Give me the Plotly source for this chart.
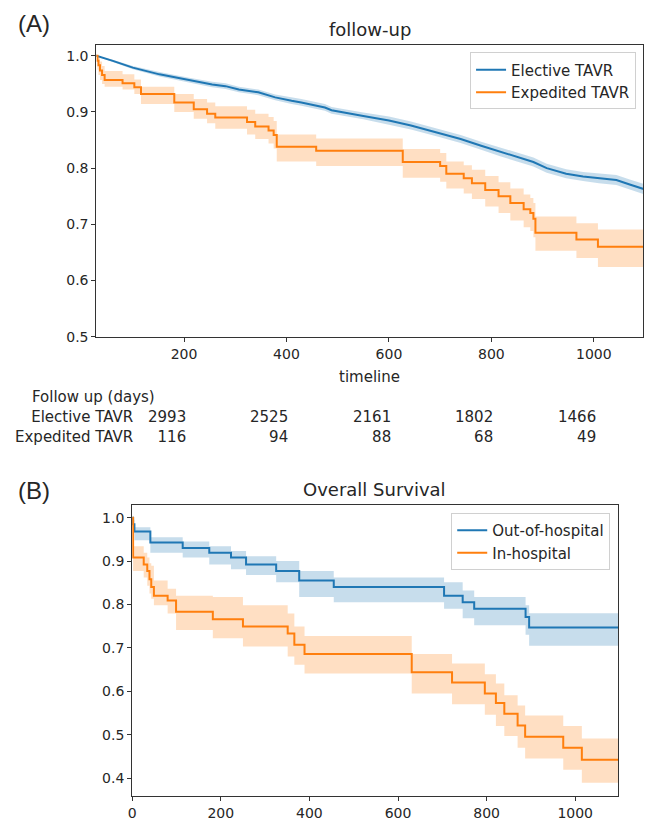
import plotly.graph_objects as go

# ---------------- Panel A : follow-up ----------------
elective_days = [0, 29, 61, 100, 152, 180, 210, 255, 281, 307, 345, 378, 410, 429, 475, 488,
                 550, 600, 643, 700, 740, 780, 817, 850, 882, 908, 946, 979, 1010, 1044, 1070, 1100]
elective_surv = [1.0, 1.0, 0.991, 0.979, 0.967, 0.962, 0.957, 0.949, 0.946, 0.940, 0.935, 0.926,
                 0.920, 0.917, 0.908, 0.903, 0.893, 0.885, 0.876, 0.862, 0.852, 0.840, 0.829, 0.820,
                 0.811, 0.800, 0.790, 0.785, 0.782, 0.779, 0.771, 0.762]
elective_upper = [1.0, 1.0, 0.993, 0.982, 0.971, 0.966, 0.961, 0.954, 0.951, 0.945, 0.940, 0.931,
                  0.926, 0.923, 0.914, 0.909, 0.899, 0.892, 0.883, 0.869, 0.859, 0.847, 0.837, 0.828,
                  0.819, 0.808, 0.798, 0.793, 0.791, 0.788, 0.780, 0.771]
elective_lower = [1.0, 1.0, 0.989, 0.976, 0.963, 0.958, 0.953, 0.944, 0.941, 0.935, 0.930, 0.921,
                  0.914, 0.911, 0.902, 0.897, 0.887, 0.878, 0.869, 0.855, 0.845, 0.833, 0.821, 0.812,
                  0.803, 0.792, 0.782, 0.777, 0.773, 0.770, 0.762, 0.753]

expedited_days = [0, 31, 33, 36, 40, 45, 80, 103, 116, 181, 219, 245, 261, 323, 339, 365, 375, 381,
                  458, 627, 700, 712, 746, 762, 788, 814, 837, 863, 876, 882, 886, 966, 1008, 1100]
expedited_surv = [1.0, 0.991, 0.983, 0.974, 0.966, 0.957, 0.951, 0.944, 0.932, 0.917, 0.905, 0.897,
                  0.890, 0.882, 0.874, 0.867, 0.859, 0.838, 0.831, 0.811, 0.804, 0.790, 0.782, 0.773,
                  0.761, 0.750, 0.738, 0.727, 0.720, 0.710, 0.685, 0.673, 0.660, 0.660]
expedited_upper = [1.0, 1.0, 0.997, 0.990, 0.982, 0.973, 0.967, 0.958, 0.945, 0.932, 0.923, 0.917,
                   0.910, 0.904, 0.897, 0.891, 0.884, 0.860, 0.853, 0.834, 0.827, 0.812, 0.805, 0.797,
                   0.786, 0.775, 0.764, 0.753, 0.747, 0.738, 0.714, 0.702, 0.691, 0.691]
expedited_lower = [1.0, 0.975, 0.966, 0.957, 0.950, 0.945, 0.940, 0.932, 0.914, 0.900, 0.888, 0.880,
                   0.870, 0.860, 0.852, 0.844, 0.835, 0.812, 0.804, 0.783, 0.776, 0.764, 0.755, 0.745,
                   0.732, 0.720, 0.707, 0.695, 0.688, 0.677, 0.653, 0.640, 0.624, 0.624]

risk_ticks = [200, 400, 600, 800, 1000]
risk_elective = ["2993", "2525", "2161", "1802", "1466"]
risk_expedited = ["116", "94", "88", "68", "49"]
risk_rows = ["Elective TAVR", "Expedited TAVR"]

# ---------------- Panel B : Overall Survival ----------------
out_days = [0, 2, 5, 41, 114, 174, 223, 257, 325, 377, 455, 704, 746, 772, 888, 896, 1100]
out_surv = [1.0, 0.985, 0.968, 0.943, 0.930, 0.919, 0.908, 0.892, 0.877, 0.855, 0.840, 0.820,
            0.805, 0.790, 0.771, 0.747, 0.747]
out_upper = [1.0, 0.995, 0.978, 0.955, 0.945, 0.934, 0.923, 0.911, 0.900, 0.877, 0.862, 0.851,
             0.832, 0.817, 0.798, 0.780, 0.780]
out_lower = [1.0, 0.965, 0.948, 0.919, 0.908, 0.892, 0.881, 0.868, 0.851, 0.817, 0.805, 0.790,
             0.768, 0.752, 0.730, 0.705, 0.705]

in_days = [0, 2, 26, 34, 39, 43, 49, 80, 99, 182, 250, 351, 366, 389, 631, 722, 796, 821, 840,
           870, 887, 973, 1015, 1100]
in_surv = [1.0, 0.908, 0.892, 0.877, 0.858, 0.840, 0.820, 0.809, 0.783, 0.766, 0.749, 0.733, 0.707,
           0.686, 0.644, 0.620, 0.595, 0.573, 0.548, 0.521, 0.495, 0.470, 0.442, 0.442]
in_upper = [1.0, 0.934, 0.919, 0.908, 0.895, 0.889, 0.855, 0.836, 0.820, 0.817, 0.798, 0.779, 0.749,
            0.727, 0.686, 0.664, 0.639, 0.618, 0.591, 0.567, 0.544, 0.520, 0.491, 0.491]
in_lower = [1.0, 0.877, 0.862, 0.843, 0.825, 0.813, 0.798, 0.779, 0.741, 0.722, 0.703, 0.680, 0.661,
            0.641, 0.595, 0.570, 0.546, 0.520, 0.497, 0.470, 0.445, 0.419, 0.389, 0.389]

BLUE = "#1f77b4"
ORANGE = "#ff7f0e"
BLUE_FILL = "rgba(31,119,180,0.25)"
ORANGE_FILL = "rgba(255,127,14,0.25)"
FONT = "DejaVu Sans"
TXT = "#262626"

W, H = 645, 829
fig = go.Figure()


def add_km(days, surv, lower, upper, color, fill, name, xa, ya, legend, shape):
    fig.add_trace(go.Scatter(x=days, y=upper, mode="lines", line=dict(width=0, shape=shape, color=color),
                             showlegend=False, hoverinfo="skip", xaxis=xa, yaxis=ya))
    fig.add_trace(go.Scatter(x=days, y=lower, mode="lines", line=dict(width=0, shape=shape, color=color),
                             fill="tonexty", fillcolor=fill, showlegend=False, hoverinfo="skip",
                             xaxis=xa, yaxis=ya))
    fig.add_trace(go.Scatter(x=days, y=surv, mode="lines", line=dict(width=2, shape=shape, color=color),
                             name=name, xaxis=xa, yaxis=ya, legend=legend))


add_km(elective_days, elective_surv, elective_lower, elective_upper, BLUE, BLUE_FILL,
       "Elective TAVR", "x", "y", "legend", "linear")
add_km(expedited_days, expedited_surv, expedited_lower, expedited_upper, ORANGE, ORANGE_FILL,
       "Expedited TAVR", "x", "y", "legend", "hv")
add_km(out_days, out_surv, out_lower, out_upper, BLUE, BLUE_FILL,
       "Out-of-hospital", "x2", "y2", "legend2", "hv")
add_km(in_days, in_surv, in_lower, in_upper, ORANGE, ORANGE_FILL,
       "In-hospital", "x2", "y2", "legend2", "hv")

axis_common = dict(showline=True, mirror=True, linecolor="#333333", linewidth=1.2, ticks="outside",
                   ticklen=4, tickcolor="#333333", showgrid=False, zeroline=False,
                   tickfont=dict(family=FONT, size=14, color=TXT))


def px_x(p):
    return p / W


def px_y(p):
    return 1 - p / H


legend_common = dict(xanchor="right", yanchor="top", bgcolor="white", traceorder="normal",
                     bordercolor="#d0d0d0", borderwidth=1, font=dict(family=FONT, size=15, color=TXT))

fig.update_layout(
    width=W, height=H,
    margin=dict(l=0, r=0, t=0, b=0),
    paper_bgcolor="white", plot_bgcolor="white",
    font=dict(family=FONT, color=TXT),
    xaxis=dict(domain=[px_x(93), px_x(643)], range=[29, 1096], tickvals=risk_ticks,
               anchor="y", **axis_common),
    yaxis=dict(domain=[px_y(340), px_y(45)], range=[0.5, 1.02],
               tickvals=[0.5, 0.6, 0.7, 0.8, 0.9, 1.0], tickformat=".1f", anchor="x", **axis_common),
    xaxis2=dict(domain=[px_x(129), px_x(618)], range=[0, 1097], tickvals=[0, 200, 400, 600, 800, 1000],
                anchor="y2", **axis_common),
    yaxis2=dict(domain=[px_y(804), px_y(510)], range=[0.358, 1.029],
                tickvals=[0.4, 0.5, 0.6, 0.7, 0.8, 0.9, 1.0], tickformat=".1f", anchor="x2", **axis_common),
    legend=dict(x=px_x(636), y=px_y(53), **legend_common),
    legend2=dict(x=px_x(610), y=px_y(518), **legend_common),
)

ann = []


def text(t, x, y, size, xanchor="center", xref="paper", xshift=0, family=FONT, align="center"):
    ann.append(dict(text=t, x=x, y=y, xref=xref, yref="paper", xanchor=xanchor, yanchor="middle",
                    showarrow=False, xshift=xshift, align=align,
                    font=dict(family=family, size=size, color=TXT)))


text("(A)", px_x(12), px_y(24), 24, xanchor="left", family="Liberation Sans")
text("(B)", px_x(12), px_y(495), 24, xanchor="left", family="Liberation Sans")
text("follow-up", px_x(368), px_y(30), 18)
text("Overall Survival", px_x(373), px_y(494), 18)
text("timeline", px_x(368), px_y(381), 15)
text("Follow up (days)", px_x(26), px_y(401), 15, xanchor="left")
text("<br>".join(risk_rows), px_x(132), px_y(431), 15, xanchor="right", align="right")
for t, a, b in zip(risk_ticks, risk_elective, risk_expedited):
    text(a + "<br>" + b, t, px_y(431), 15, xanchor="right", xref="x", xshift=4, align="right")

fig.update_layout(annotations=ann)
fig.write_html("out.html", config={"displayModeBar": False},
               post_script="document.body.style.margin='0px';")
